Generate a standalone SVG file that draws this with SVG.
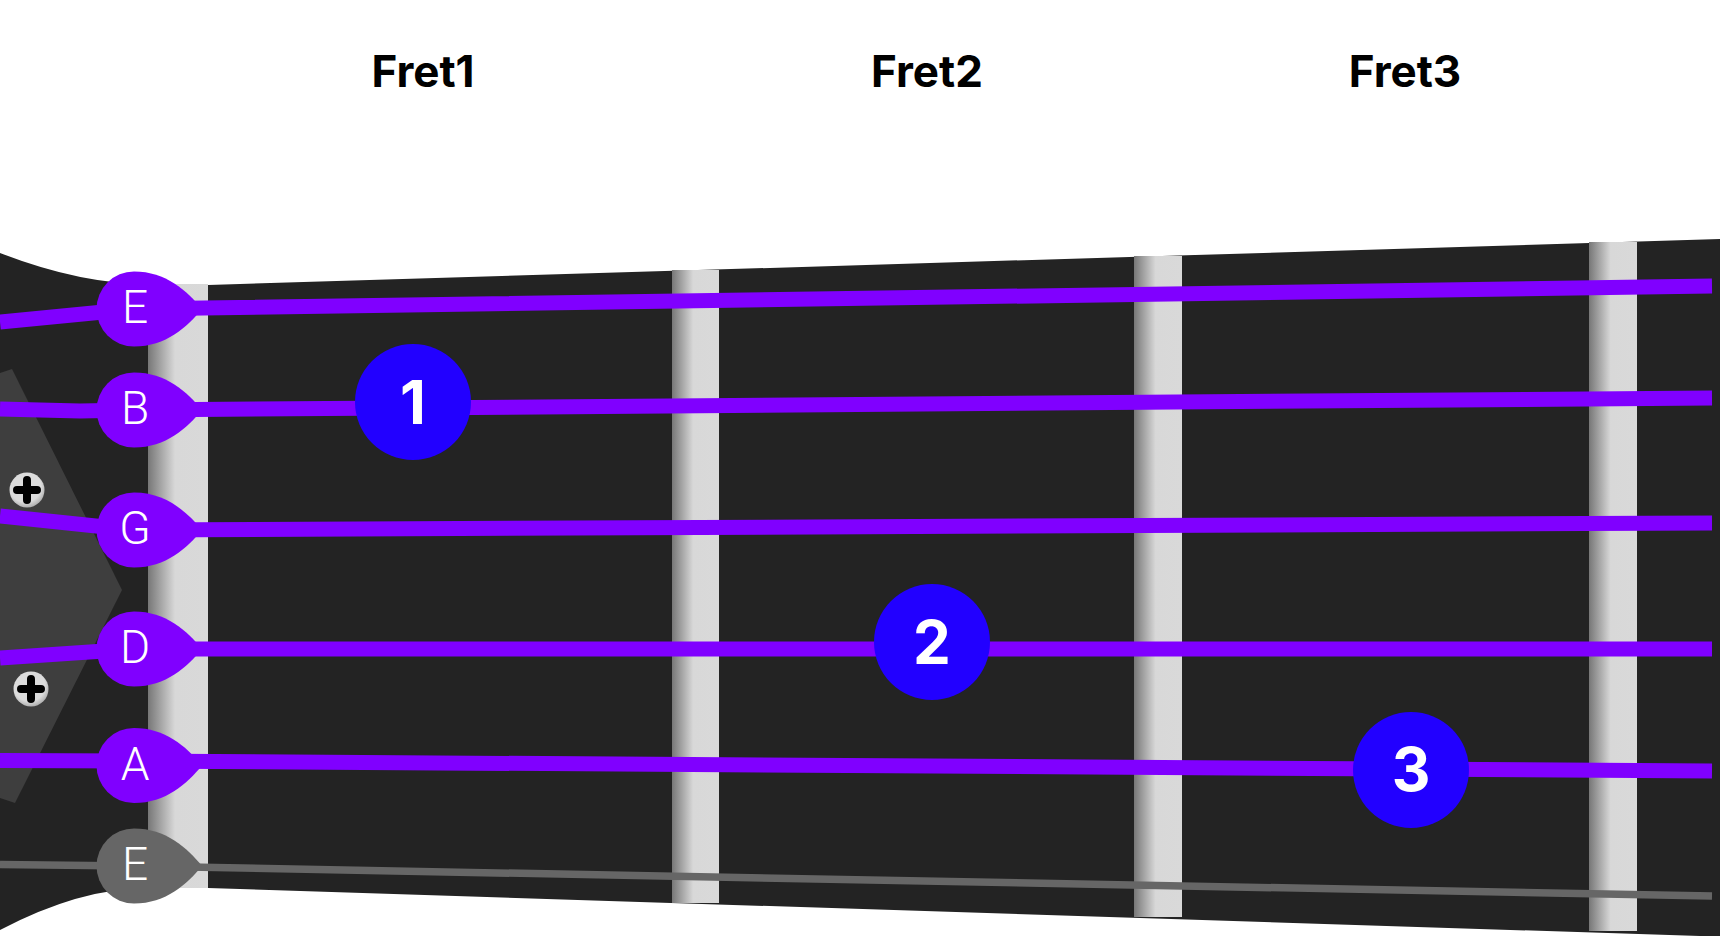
<svg xmlns="http://www.w3.org/2000/svg" width="1720" height="936" viewBox="0 0 1720 936">
<defs>
<linearGradient id="fretGrad" x1="0" y1="0" x2="1" y2="0">
<stop offset="0" stop-color="#777"/>
<stop offset="0.45" stop-color="#d8d8d8"/>
<stop offset="1" stop-color="#d9d9d9"/>
</linearGradient>
<radialGradient id="screwGrad" cx="0.45" cy="0.4" r="0.6">
<stop offset="0.75" stop-color="#dcdcdc"/>
<stop offset="1" stop-color="#b0b0b0"/>
</radialGradient>
<g id="screwHead">
<circle r="17.5" fill="url(#screwGrad)"/>
<path d="M0,-10 V10 M-10,0 H10" stroke="#000" stroke-width="8" stroke-linecap="round"/>
</g>
<path id="pick" d="M0,-37.5 C32,-37.5 53,-18 68,0 C53,18 32,37.5 0,37.5 A37.5,37.5 0 0 1 0,-37.5 Z"/>
</defs>
<style>
.fret{fill:url(#fretGrad)}
.str{stroke:#8000ff;stroke-width:15;fill:none}
.strE{stroke:#666;stroke-width:7.5;fill:none}
.pick{fill:#8000ff}
.pickE{fill:#666}
.pl{font-family:Roboto,"Liberation Sans",sans-serif;font-weight:300;font-size:46px;fill:#fff;text-anchor:middle}
.hd{font-family:Inter,"Liberation Sans",sans-serif;font-weight:700;font-size:44px;fill:#000;text-anchor:middle}
.fc{fill:#2200ff}
.fn{font-family:Inter,"Liberation Sans",sans-serif;font-weight:700;font-size:60px;fill:#fff;text-anchor:middle}
</style>
<rect width="1720" height="936" fill="#fff"/>
<g id="board">
<path d="M0,253 Q80,284 148,284 L208,285 L1720,239 L1720,936 L1700,936 L208,888 L148,888 Q80,888 0,930 Z" fill="#232323"/>
<polygon points="0,373 12,369 122,590 15,803 0,798" fill="#3e3e3e"/>
<use href="#screwHead" x="27" y="490"/>
<use href="#screwHead" x="31" y="689"/>
</g>
<g id="frets">
<rect x="148" y="284" width="60" height="604" class="fret"/>
<rect x="672" y="270" width="47" height="633" class="fret"/>
<rect x="1134" y="256" width="48" height="661" class="fret"/>
<rect x="1589" y="242" width="48" height="689" class="fret"/>
</g>
<g id="headers">
<text x="423" y="87" class="hd">Fret1</text>
<text x="927" y="87" class="hd">Fret2</text>
<text x="1405" y="87" class="hd">Fret3</text>
</g>
<g id="connectors">
<path class="str" d="M0,322 L134,309 L1712,286"/>
<path class="str" d="M0,409 L80,411 L134,410 L1712,398"/>
<path class="str" d="M0,516 L134,530 L1712,523"/>
<path class="str" d="M0,658 L134,649 L1712,649"/>
<path class="str" d="M0,760.5 L134,761 L1712,771"/>
<path class="strE" d="M0,864.5 L134,866 L1712,896"/>
</g>
<g id="string-E-high"><use href="#pick" x="134" y="309" class="pick"/><text x="135" y="323" class="pl">E</text></g>
<g id="string-B"><use href="#pick" x="134" y="410" class="pick"/><text x="135" y="424" class="pl">B</text></g>
<g id="string-G"><use href="#pick" x="134" y="530" class="pick"/><text x="135" y="544" class="pl">G</text></g>
<g id="string-D"><use href="#pick" x="134" y="649" class="pick"/><text x="135" y="663" class="pl">D</text></g>
<g id="string-A"><use href="#pick" x="134" y="765.5" class="pick"/><text x="135" y="779.5" class="pl">A</text></g>
<g id="string-E-low"><use href="#pick" x="134" y="866" class="pickE"/><text x="135" y="880" class="pl">E</text></g>
<g id="finger-1"><circle cx="413" cy="402" r="58" class="fc"/><text x="413" y="424" class="fn">1</text></g>
<g id="finger-2"><circle cx="932" cy="642" r="58" class="fc"/><text x="932" y="664" class="fn">2</text></g>
<g id="finger-3"><circle cx="1411" cy="770" r="58" class="fc"/><text x="1411" y="791" class="fn">3</text></g>
</svg>
